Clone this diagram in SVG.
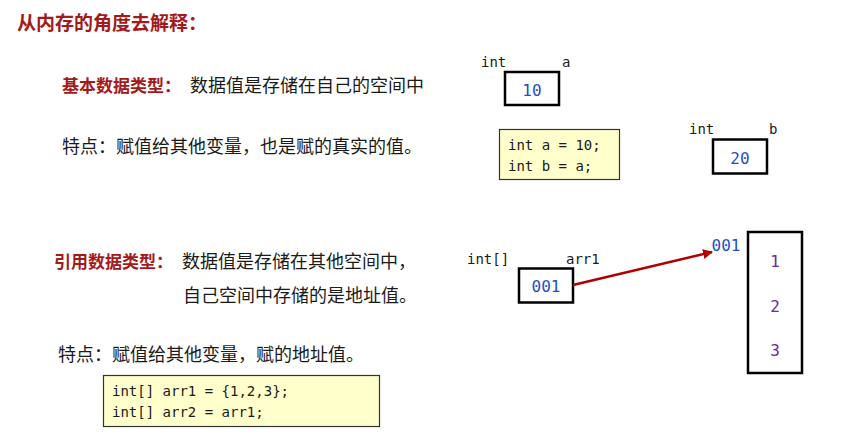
<svg xmlns="http://www.w3.org/2000/svg" width="847" height="444" viewBox="0 0 847 444">
<defs>
<style>
.cn{font-family:"Noto Sans CJK SC","Noto Sans",sans-serif;font-size:18px;fill:#1a1a1a}
.hd{font-family:"Noto Sans CJK SC","Noto Sans",sans-serif;font-weight:bold;fill:#a31a1a}
.mono{font-family:"DejaVu Sans Mono","Liberation Mono",monospace;font-size:14px;fill:#1a1a1a}
.val{font-family:"DejaVu Sans Mono","Liberation Mono",monospace;font-size:16px;fill:#1f4fc2;text-anchor:middle}
.num{font-family:"DejaVu Sans Mono","Liberation Mono",monospace;font-size:16px;fill:#6a2a9a;text-anchor:middle}
.box{fill:#ffffff;stroke:#000;stroke-width:2.5}
.code{fill:#ffffcc;stroke:#333;stroke-width:1.2}
</style>
<marker id="ah" viewBox="0 0 10 10" refX="9" refY="5" markerWidth="4" markerHeight="4" orient="auto" markerUnits="strokeWidth">
<path d="M0,0 L10,5 L0,10 Z" fill="#b00000"/>
</marker>
</defs>
<rect width="847" height="444" fill="#ffffff"/>
<text class="hd" x="17" y="30" font-size="19">从内存的角度去解释：</text>
<g id="primitive-desc">
<text x="62" y="92"><tspan class="hd" font-size="17">基本数据类型：</tspan><tspan class="cn" x="190">数据值是存储在自己的空间中</tspan></text>
<text class="cn" x="62" y="153">特点：赋值给其他变量，也是赋的真实的值。</text>
</g>
<g id="code-primitive">
<rect class="code" x="499.5" y="129.5" width="120" height="50"/>
<text class="mono" x="508" y="150">int a = 10;</text>
<text class="mono" x="508" y="171">int b = a;</text>
</g>
<g id="var-a">
<text class="mono" x="481" y="67">int</text>
<text class="mono" x="562" y="67">a</text>
<rect class="box" x="505" y="72" width="54" height="33"/>
<text class="val" x="532" y="96">10</text>
</g>
<g id="var-b">
<text class="mono" x="689" y="134">int</text>
<text class="mono" x="769" y="134">b</text>
<rect class="box" x="713" y="139.5" width="54" height="34"/>
<text class="val" x="740" y="164">20</text>
</g>
<g id="reference-desc">
<text x="54" y="268"><tspan class="hd" font-size="17">引用数据类型：</tspan><tspan class="cn" x="182">数据值是存储在其他空间中，</tspan></text>
<text class="cn" x="183" y="302">自己空间中存储的是地址值。</text>
<text class="cn" x="58" y="361">特点：赋值给其他变量，赋的地址值。</text>
</g>
<g id="code-reference">
<rect class="code" x="103.5" y="375.5" width="276" height="51"/>
<text class="mono" x="112" y="396">int[] arr1 = {1,2,3};</text>
<text class="mono" x="112" y="417">int[] arr2 = arr1;</text>
</g>
<g id="var-arr1">
<text class="mono" x="467" y="264">int[]</text>
<text class="mono" x="566" y="264">arr1</text>
<rect class="box" x="519" y="268.5" width="54" height="34"/>
<text class="val" x="546" y="292">001</text>
</g>
<g id="array">
<text class="val" x="726" y="251">001</text>
<rect class="box" x="748" y="232" width="54" height="141"/>
<text class="num" x="775" y="267">1</text>
<text class="num" x="775" y="312">2</text>
<text class="num" x="775" y="356">3</text>
</g>
<g id="connectors">
<line x1="573" y1="285" x2="712" y2="252" stroke="#b00000" stroke-width="2.5" marker-end="url(#ah)"/>
</g>
</svg>
